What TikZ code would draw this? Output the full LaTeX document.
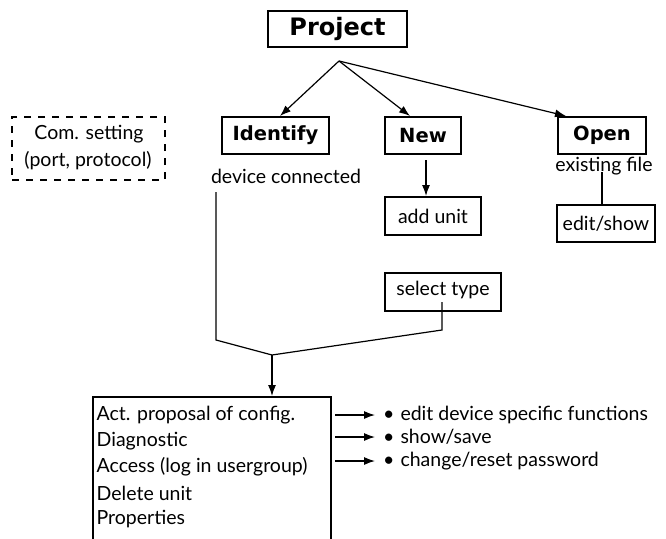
\documentclass[tikz,border=0pt]{standalone}
\usepackage{fontspec}
\setmainfont{Lato}
\newfontfamily\headfont{DejaVu Sans}
\usetikzlibrary{arrows.meta,calc}
\begin{document}
\begin{tikzpicture}[x=1pt,y=-1pt,
  box/.style={draw,line width=2pt,rectangle,inner sep=0pt,font=\fontsize{19.5}{22}\selectfont},
  headbox/.style={box,font=\headfont\bfseries\fontsize{19.5}{23}\selectfont},
  txt/.style={inner sep=0pt,font=\fontsize{19.5}{22}\selectfont},
  conn/.style={line width=1.2pt},
  arr/.style={conn,-{Latex[length=11pt,width=8pt]}}]
\useasboundingbox (0,0) rectangle (666,538);
\node[headbox,minimum width=139pt,minimum height=36pt,font=\headfont\bfseries\fontsize{24}{28}\selectfont] (project) at (337.5,29) {Project};
\node[headbox,minimum width=107pt,minimum height=37pt] (identify) at (275.5,135.5) {Identify};
\node[headbox,minimum width=76pt,minimum height=37pt] (new) at (423,135.5) {New};
\node[headbox,minimum width=88pt,minimum height=37pt] (open) at (602,135.5) {Open};
\node[box,dash pattern=on 7pt off 7pt,minimum width=153pt,minimum height=63pt] (com) at (88.5,148.5) {};
\node[txt] (com1) at (89,134) {Com. setting};
\node[txt] (com2) at (88,161) {(port, protocol)};
\node[txt] (devcon) at (286,176) {device connected};
\node[txt] (exist) at (604,166) {existing file};
\node[box,minimum width=96pt,minimum height=38pt] (addunit) at (433,216) {add unit};
\node[box,minimum width=98pt,minimum height=37pt] (editshow) at (606,223.5) {edit/show};
\node[box,minimum width=116pt,minimum height=38pt] (seltype) at (443,292) {};
\node[txt] (seltxt) at (443,290) {select type};
\node[box,anchor=north west,minimum width=238.5pt,minimum height=160pt] (main) at (91.5,396) {};
\node[txt,anchor=west] (m1) at (96.5,415) {Act. proposal of config.};
\node[txt,anchor=west] (m2) at (96.5,441) {Diagnostic};
\node[txt,anchor=west] (m3) at (96.5,467) {Access (log in usergroup)};
\node[txt,anchor=west] (m4) at (96.5,493) {Delete unit};
\node[txt,anchor=west] (m5) at (96.5,519) {Properties};
\node[txt,anchor=west] (r1) at (383,415) {\textbullet\hspace{6pt}edit device specific functions};
\node[txt,anchor=west] (r2) at (383,437) {\textbullet\hspace{6pt}show/save};
\node[txt,anchor=west] (r3) at (383,461) {\textbullet\hspace{6pt}change/reset password};
\coordinate (br) at (339,61);
\coordinate (merge) at (272,355);
\coordinate (idtop) at (216,192);
\coordinate (idbot) at (216,340);
\coordinate (sttop) at (442,302);
\coordinate (stbot) at (442,330);
\coordinate (oetop) at (602,172);
\coordinate (nwtop) at (426,160);
\draw[arr] (br) -- ([xshift=4.5pt]identify.north);
\draw[arr] (br) -- ([xshift=-13pt]new.north);
\draw[arr] (br) -- ([xshift=-36pt]open.north);
\draw[arr] (nwtop) -- (nwtop |- addunit.north);
\draw[conn] (oetop) -- (oetop |- editshow.north);
\draw[conn] (idtop) -- (idbot) -- (merge);
\draw[conn] (sttop) -- (stbot) -- (merge);
\draw[arr] (merge) -- (merge |- main.north);
\draw[arr] ([xshift=3pt]main.east |- r1) -- ([xshift=-8pt]r1.west);
\draw[arr] ([xshift=3pt]main.east |- r2) -- ([xshift=-8pt]r2.west);
\draw[arr] ([xshift=3pt]main.east |- r3) -- ([xshift=-8pt]r3.west);
\end{tikzpicture}
\end{document}
